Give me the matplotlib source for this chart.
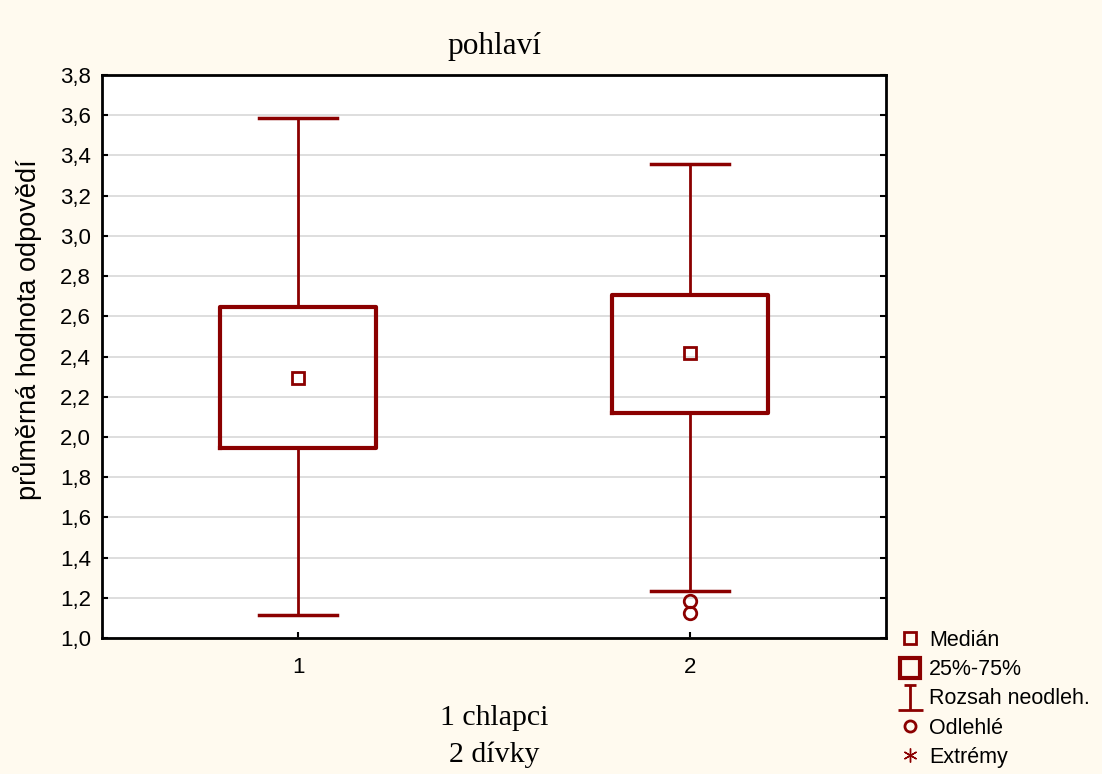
import matplotlib.pyplot as plt
from matplotlib.lines import Line2D
from matplotlib.path import Path

# --- data: quartiles, medians, whisker ends and outliers per group ---
groups = ['1', '2']
medians = [2.295, 2.415]
q1 = [1.946, 2.121]
q3 = [2.645, 2.705]
whisk_lo = [1.114, 1.234]
whisk_hi = [3.588, 3.355]
outliers = [[], [1.184, 1.124]]

y_ticks = [1.0, 1.2, 1.4, 1.6, 1.8, 2.0, 2.2, 2.4, 2.6, 2.8, 3.0, 3.2, 3.4, 3.6, 3.8]

RED = '#8b0000'
BG = '#fffaef'
SANS = ['Liberation Sans', 'DejaVu Sans']
SERIF = ['Liberation Serif', 'DejaVu Serif']

plt.rcParams['font.family'] = SANS

fig = plt.figure(figsize=(11.02, 7.74), dpi=100, facecolor=BG)
ax = fig.add_axes([0.0926, 0.1757, 0.7114, 0.7274])
ax.set_facecolor('white')

stats = []
for i in range(len(groups)):
    stats.append({
        'med': medians[i], 'mean': medians[i],
        'q1': q1[i], 'q3': q3[i],
        'whislo': whisk_lo[i], 'whishi': whisk_hi[i],
        'fliers': outliers[i], 'label': groups[i],
    })

# median drawn as a small square (via the mean marker), no median line
ax.bxp(stats, positions=[1, 2], widths=0.4, showmeans=True, showfliers=True,
       boxprops=dict(color=RED, linewidth=3),
       whiskerprops=dict(color=RED, linewidth=2),
       capprops=dict(color=RED, linewidth=2.5),
       capwidths=0.2,
       medianprops=dict(linewidth=0),
       meanprops=dict(marker='s', markerfacecolor='none', markeredgecolor=RED,
                      markersize=8, markeredgewidth=2),
       flierprops=dict(marker='o', markerfacecolor='none', markeredgecolor=RED,
                       markersize=9, markeredgewidth=2))

ax.set_xlim(0.5, 2.5)
ax.set_ylim(1.0, 3.8)
ax.set_yticks(y_ticks)
ax.set_yticklabels([f'{v:.1f}'.replace('.', ',') for v in y_ticks])
ax.set_xticks([1, 2])
ax.set_xticklabels(groups)
ax.tick_params(direction='in', length=4, width=1.5, labelsize=16, pad=8,
               right=True, colors='black')
ax.tick_params(axis='x', pad=14)
ax.yaxis.grid(True, color='#d8d8d8', linewidth=1.2)
ax.set_axisbelow(True)
for s in ax.spines.values():
    s.set_linewidth(2)
    s.set_color('black')

ax.set_title('pohlaví', family=SERIF, fontsize=22.5, pad=15)
ax.set_ylabel('průměrná hodnota odpovědí', fontsize=19.5)
ax.yaxis.set_label_coords(-0.077, 0.547)
ax.set_xlabel('1 chlapci\n2 dívky', family=SERIF, fontsize=21.5, labelpad=19,
              linespacing=1.5)

# I-shaped handle for the non-outlier range
range_marker = Path([(0, -1), (0, 1), (-0.45, 1), (0.45, 1), (-1, -1), (1, -1)],
                    [Path.MOVETO, Path.LINETO, Path.MOVETO, Path.LINETO,
                     Path.MOVETO, Path.LINETO])

handles = [
    Line2D([], [], ls='none', marker='s', markerfacecolor='none',
           markeredgecolor=RED, markersize=8, markeredgewidth=2),
    Line2D([], [], ls='none', marker='s', markerfacecolor='none',
           markeredgecolor=RED, markersize=14, markeredgewidth=3),
    Line2D([], [], ls='none', marker=range_marker, markerfacecolor='none',
           markeredgecolor=RED, markersize=18, markeredgewidth=2),
    Line2D([], [], ls='none', marker='o', markerfacecolor='none',
           markeredgecolor=RED, markersize=8, markeredgewidth=2),
    Line2D([], [], ls='none', marker=(6, 2, 0), markerfacecolor='none',
           markeredgecolor=RED, markersize=10, markeredgewidth=1),
]
labels = ['Medián', '25%-75%', 'Rozsah neodleh.', 'Odlehlé', 'Extrémy']
fig.legend(handles, labels, loc='upper left', bbox_to_anchor=(0.806, 0.2),
           frameon=False, fontsize=15.5, handlelength=1.0, handletextpad=0.4,
           labelspacing=0.38, borderpad=0)

fig.savefig('out.png', dpi=100, facecolor=BG)
